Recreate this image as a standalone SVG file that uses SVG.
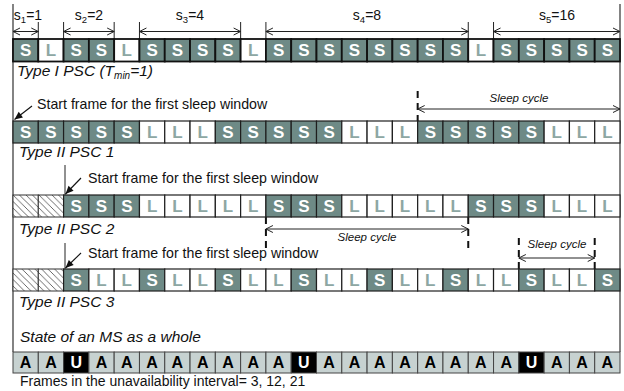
<svg xmlns="http://www.w3.org/2000/svg" width="624" height="391" viewBox="0 0 624 391">
<style>
text{font-family:"Liberation Sans",Arial,sans-serif}
.S{fill:#6e8a86;stroke:#1e1e1e;stroke-width:1.2}
.L{fill:#ffffff;stroke:#1e1e1e;stroke-width:1.2}
.H{fill:url(#hatch);stroke:#333;stroke-width:1}
.A{fill:#c7d2d1;stroke:#444;stroke-width:1}
.U{fill:#000;stroke:#444;stroke-width:1}
.r1 rect{stroke-width:1.8;stroke:#111}
.tS{fill:#fff;font-weight:bold;font-size:17px;text-anchor:middle}
.tL{fill:#8da7a3;font-weight:bold;font-size:17px;text-anchor:middle}
.tA{fill:#000;font-weight:bold;font-size:16px;text-anchor:middle}
.tU{fill:#fff;font-weight:bold;font-size:16px;text-anchor:middle}
.lbl{font-size:15.5px;font-style:italic;fill:#111}
.note{font-size:14.2px;fill:#111}
.sc{font-size:11.5px;font-style:italic;fill:#111;text-anchor:middle}
.sl{font-size:14px;fill:#111;text-anchor:middle}
.frame{stroke:#333;stroke-width:1.2;fill:none}
.tick{stroke:#222;stroke-width:1;fill:none}
.dim{stroke:#222;stroke-width:1;fill:none;marker-start:url(#open);marker-end:url(#open)}
.dash{stroke:#111;stroke-width:2;stroke-dasharray:7 5;fill:none}
.ptr{stroke:#111;stroke-width:1.1;fill:none;marker-end:url(#solid)}
</style>
<defs>
<pattern id="hatch" patternUnits="userSpaceOnUse" width="6.5" height="6.5">
<rect width="6.5" height="6.5" fill="#fff"/>
<path d="M-1,-1 L7.5,7.5 M-1,5.5 L1,7.5 M5.5,-1 L7.5,1" stroke="#444" stroke-width="0.8"/>
</pattern>
<marker id="open" viewBox="-9 -5 10 10" refX="0" refY="0" markerWidth="10" markerHeight="10" markerUnits="userSpaceOnUse" orient="auto-start-reverse">
<path d="M-7,-3.5 L0,0 L-7,3.5" fill="none" stroke="#222" stroke-width="1"/>
</marker>
<marker id="solid" viewBox="-9 -5 10 10" refX="0" refY="0" markerWidth="10" markerHeight="10" markerUnits="userSpaceOnUse" orient="auto">
<path d="M-8,-3.5 L0,0 L-8,3.5 z" fill="#111"/>
</marker>
</defs>
<rect width="624" height="391" fill="#fff"/>

<g id="connectors">
<path class="frame" d="M13,4 V352 M620,4 V352"/>
<path class="tick" d="M38.29,22 V39 M63.58,22 V39 M114.17,22 V39 M139.46,22 V39 M240.63,22 V39 M265.92,22 V39 M468.25,22 V39 M493.54,22 V39"/>
<line class="dim" x1="13" y1="31.5" x2="38.29" y2="31.5"/>
<line class="dim" x1="63.58" y1="31.5" x2="114.17" y2="31.5"/>
<line class="dim" x1="139.46" y1="31.5" x2="240.63" y2="31.5"/>
<line class="dim" x1="265.92" y1="31.5" x2="468.25" y2="31.5"/>
<line class="dim" x1="493.54" y1="31.5" x2="620" y2="31.5"/>
<path class="dash" d="M417.67,91 V121"/>
<line class="dim" x1="417.67" y1="109" x2="620" y2="109"/>
<path class="dash" d="M265.92,217 V251 M468.25,217 V251"/>
<line class="dim" x1="265.92" y1="229" x2="468.25" y2="229"/>
<path class="dash" d="M518.83,238 V269 M594.71,238 V269"/>
<line class="dim" x1="518.83" y1="258" x2="594.71" y2="258"/>
<line class="ptr" x1="32" y1="106" x2="14.5" y2="119.5"/>
<path class="tick" d="M65,165 V195 M65,243 V269"/>
<line class="ptr" x1="81" y1="178" x2="65.5" y2="194"/>
<line class="ptr" x1="81" y1="253" x2="65.5" y2="268"/>
</g>

<g id="labels">
<text class="sl" x="28" y="20"><tspan>s</tspan><tspan font-size="9.5" dy="3">1</tspan><tspan dy="-3">=1</tspan></text>
<text class="sl" x="89" y="20"><tspan>s</tspan><tspan font-size="9.5" dy="3">2</tspan><tspan dy="-3">=2</tspan></text>
<text class="sl" x="190" y="20"><tspan>s</tspan><tspan font-size="9.5" dy="3">3</tspan><tspan dy="-3">=4</tspan></text>
<text class="sl" x="367" y="20"><tspan>s</tspan><tspan font-size="9.5" dy="3">4</tspan><tspan dy="-3">=8</tspan></text>
<text class="sl" x="557" y="20"><tspan>s</tspan><tspan font-size="9.5" dy="3">5</tspan><tspan dy="-3">=16</tspan></text>
<text class="lbl" x="17" y="76">Type I PSC (T<tspan font-size="10" dy="3">min</tspan><tspan dy="-3">=1)</tspan></text>
<text class="note" x="37" y="109">Start frame for the first sleep window</text>
<text class="sc" x="519" y="102">Sleep cycle</text>
<text class="lbl" x="19" y="157">Type II PSC 1</text>
<text class="note" x="88" y="183">Start frame for the first sleep window</text>
<text class="lbl" x="19" y="234">Type II PSC 2</text>
<text class="sc" x="367" y="241">Sleep cycle</text>
<text class="sc" x="557" y="248">Sleep cycle</text>
<text class="note" x="88" y="258">Start frame for the first sleep window</text>
<text class="lbl" x="19" y="307">Type II PSC 3</text>
<text class="lbl" x="20" y="342">State of an MS as a whole</text>
<text class="note" x="20" y="386" style="font-size:14px">Frames in the unavailability interval= 3, 12, 21</text>
</g>

<g id="row1" class="r1">
<g id="r1c0"><rect class="S" x="13" y="39" width="25.29" height="22.5"/><text class="tS" x="25.65" y="56.3">S</text></g>
<g id="r1c1"><rect class="L" x="38.29" y="39" width="25.29" height="22.5"/><text class="tL" x="50.94" y="56.3">L</text></g>
<g id="r1c2"><rect class="S" x="63.58" y="39" width="25.29" height="22.5"/><text class="tS" x="76.23" y="56.3">S</text></g>
<g id="r1c3"><rect class="S" x="88.88" y="39" width="25.29" height="22.5"/><text class="tS" x="101.52" y="56.3">S</text></g>
<g id="r1c4"><rect class="L" x="114.17" y="39" width="25.29" height="22.5"/><text class="tL" x="126.81" y="56.3">L</text></g>
<g id="r1c5"><rect class="S" x="139.46" y="39" width="25.29" height="22.5"/><text class="tS" x="152.1" y="56.3">S</text></g>
<g id="r1c6"><rect class="S" x="164.75" y="39" width="25.29" height="22.5"/><text class="tS" x="177.4" y="56.3">S</text></g>
<g id="r1c7"><rect class="S" x="190.04" y="39" width="25.29" height="22.5"/><text class="tS" x="202.69" y="56.3">S</text></g>
<g id="r1c8"><rect class="S" x="215.33" y="39" width="25.29" height="22.5"/><text class="tS" x="227.98" y="56.3">S</text></g>
<g id="r1c9"><rect class="L" x="240.63" y="39" width="25.29" height="22.5"/><text class="tL" x="253.27" y="56.3">L</text></g>
<g id="r1c10"><rect class="S" x="265.92" y="39" width="25.29" height="22.5"/><text class="tS" x="278.56" y="56.3">S</text></g>
<g id="r1c11"><rect class="S" x="291.21" y="39" width="25.29" height="22.5"/><text class="tS" x="303.85" y="56.3">S</text></g>
<g id="r1c12"><rect class="S" x="316.5" y="39" width="25.29" height="22.5"/><text class="tS" x="329.15" y="56.3">S</text></g>
<g id="r1c13"><rect class="S" x="341.79" y="39" width="25.29" height="22.5"/><text class="tS" x="354.44" y="56.3">S</text></g>
<g id="r1c14"><rect class="S" x="367.08" y="39" width="25.29" height="22.5"/><text class="tS" x="379.73" y="56.3">S</text></g>
<g id="r1c15"><rect class="S" x="392.38" y="39" width="25.29" height="22.5"/><text class="tS" x="405.02" y="56.3">S</text></g>
<g id="r1c16"><rect class="S" x="417.67" y="39" width="25.29" height="22.5"/><text class="tS" x="430.31" y="56.3">S</text></g>
<g id="r1c17"><rect class="S" x="442.96" y="39" width="25.29" height="22.5"/><text class="tS" x="455.6" y="56.3">S</text></g>
<g id="r1c18"><rect class="L" x="468.25" y="39" width="25.29" height="22.5"/><text class="tL" x="480.9" y="56.3">L</text></g>
<g id="r1c19"><rect class="S" x="493.54" y="39" width="25.29" height="22.5"/><text class="tS" x="506.19" y="56.3">S</text></g>
<g id="r1c20"><rect class="S" x="518.83" y="39" width="25.29" height="22.5"/><text class="tS" x="531.48" y="56.3">S</text></g>
<g id="r1c21"><rect class="S" x="544.13" y="39" width="25.29" height="22.5"/><text class="tS" x="556.77" y="56.3">S</text></g>
<g id="r1c22"><rect class="S" x="569.42" y="39" width="25.29" height="22.5"/><text class="tS" x="582.06" y="56.3">S</text></g>
<g id="r1c23"><rect class="S" x="594.71" y="39" width="25.29" height="22.5"/><text class="tS" x="607.35" y="56.3">S</text></g>
</g>

<g id="row2">
<g id="r2c0"><rect class="S" x="13" y="121" width="25.29" height="22"/><text class="tS" x="25.65" y="138">S</text></g>
<g id="r2c1"><rect class="S" x="38.29" y="121" width="25.29" height="22"/><text class="tS" x="50.94" y="138">S</text></g>
<g id="r2c2"><rect class="S" x="63.58" y="121" width="25.29" height="22"/><text class="tS" x="76.23" y="138">S</text></g>
<g id="r2c3"><rect class="S" x="88.88" y="121" width="25.29" height="22"/><text class="tS" x="101.52" y="138">S</text></g>
<g id="r2c4"><rect class="S" x="114.17" y="121" width="25.29" height="22"/><text class="tS" x="126.81" y="138">S</text></g>
<g id="r2c5"><rect class="L" x="139.46" y="121" width="25.29" height="22"/><text class="tL" x="152.1" y="138">L</text></g>
<g id="r2c6"><rect class="L" x="164.75" y="121" width="25.29" height="22"/><text class="tL" x="177.4" y="138">L</text></g>
<g id="r2c7"><rect class="L" x="190.04" y="121" width="25.29" height="22"/><text class="tL" x="202.69" y="138">L</text></g>
<g id="r2c8"><rect class="S" x="215.33" y="121" width="25.29" height="22"/><text class="tS" x="227.98" y="138">S</text></g>
<g id="r2c9"><rect class="S" x="240.63" y="121" width="25.29" height="22"/><text class="tS" x="253.27" y="138">S</text></g>
<g id="r2c10"><rect class="S" x="265.92" y="121" width="25.29" height="22"/><text class="tS" x="278.56" y="138">S</text></g>
<g id="r2c11"><rect class="S" x="291.21" y="121" width="25.29" height="22"/><text class="tS" x="303.85" y="138">S</text></g>
<g id="r2c12"><rect class="S" x="316.5" y="121" width="25.29" height="22"/><text class="tS" x="329.15" y="138">S</text></g>
<g id="r2c13"><rect class="L" x="341.79" y="121" width="25.29" height="22"/><text class="tL" x="354.44" y="138">L</text></g>
<g id="r2c14"><rect class="L" x="367.08" y="121" width="25.29" height="22"/><text class="tL" x="379.73" y="138">L</text></g>
<g id="r2c15"><rect class="L" x="392.38" y="121" width="25.29" height="22"/><text class="tL" x="405.02" y="138">L</text></g>
<g id="r2c16"><rect class="S" x="417.67" y="121" width="25.29" height="22"/><text class="tS" x="430.31" y="138">S</text></g>
<g id="r2c17"><rect class="S" x="442.96" y="121" width="25.29" height="22"/><text class="tS" x="455.6" y="138">S</text></g>
<g id="r2c18"><rect class="S" x="468.25" y="121" width="25.29" height="22"/><text class="tS" x="480.9" y="138">S</text></g>
<g id="r2c19"><rect class="S" x="493.54" y="121" width="25.29" height="22"/><text class="tS" x="506.19" y="138">S</text></g>
<g id="r2c20"><rect class="S" x="518.83" y="121" width="25.29" height="22"/><text class="tS" x="531.48" y="138">S</text></g>
<g id="r2c21"><rect class="L" x="544.13" y="121" width="25.29" height="22"/><text class="tL" x="556.77" y="138">L</text></g>
<g id="r2c22"><rect class="L" x="569.42" y="121" width="25.29" height="22"/><text class="tL" x="582.06" y="138">L</text></g>
<g id="r2c23"><rect class="L" x="594.71" y="121" width="25.29" height="22"/><text class="tL" x="607.35" y="138">L</text></g>
</g>

<g id="row3">
<g id="r3c0"><rect class="H" x="13" y="195" width="25.29" height="22"/></g>
<g id="r3c1"><rect class="H" x="38.29" y="195" width="25.29" height="22"/></g>
<g id="r3c2"><rect class="S" x="63.58" y="195" width="25.29" height="22"/><text class="tS" x="76.23" y="212">S</text></g>
<g id="r3c3"><rect class="S" x="88.88" y="195" width="25.29" height="22"/><text class="tS" x="101.52" y="212">S</text></g>
<g id="r3c4"><rect class="S" x="114.17" y="195" width="25.29" height="22"/><text class="tS" x="126.81" y="212">S</text></g>
<g id="r3c5"><rect class="L" x="139.46" y="195" width="25.29" height="22"/><text class="tL" x="152.1" y="212">L</text></g>
<g id="r3c6"><rect class="L" x="164.75" y="195" width="25.29" height="22"/><text class="tL" x="177.4" y="212">L</text></g>
<g id="r3c7"><rect class="L" x="190.04" y="195" width="25.29" height="22"/><text class="tL" x="202.69" y="212">L</text></g>
<g id="r3c8"><rect class="L" x="215.33" y="195" width="25.29" height="22"/><text class="tL" x="227.98" y="212">L</text></g>
<g id="r3c9"><rect class="L" x="240.63" y="195" width="25.29" height="22"/><text class="tL" x="253.27" y="212">L</text></g>
<g id="r3c10"><rect class="S" x="265.92" y="195" width="25.29" height="22"/><text class="tS" x="278.56" y="212">S</text></g>
<g id="r3c11"><rect class="S" x="291.21" y="195" width="25.29" height="22"/><text class="tS" x="303.85" y="212">S</text></g>
<g id="r3c12"><rect class="S" x="316.5" y="195" width="25.29" height="22"/><text class="tS" x="329.15" y="212">S</text></g>
<g id="r3c13"><rect class="L" x="341.79" y="195" width="25.29" height="22"/><text class="tL" x="354.44" y="212">L</text></g>
<g id="r3c14"><rect class="L" x="367.08" y="195" width="25.29" height="22"/><text class="tL" x="379.73" y="212">L</text></g>
<g id="r3c15"><rect class="L" x="392.38" y="195" width="25.29" height="22"/><text class="tL" x="405.02" y="212">L</text></g>
<g id="r3c16"><rect class="L" x="417.67" y="195" width="25.29" height="22"/><text class="tL" x="430.31" y="212">L</text></g>
<g id="r3c17"><rect class="L" x="442.96" y="195" width="25.29" height="22"/><text class="tL" x="455.6" y="212">L</text></g>
<g id="r3c18"><rect class="S" x="468.25" y="195" width="25.29" height="22"/><text class="tS" x="480.9" y="212">S</text></g>
<g id="r3c19"><rect class="S" x="493.54" y="195" width="25.29" height="22"/><text class="tS" x="506.19" y="212">S</text></g>
<g id="r3c20"><rect class="S" x="518.83" y="195" width="25.29" height="22"/><text class="tS" x="531.48" y="212">S</text></g>
<g id="r3c21"><rect class="L" x="544.13" y="195" width="25.29" height="22"/><text class="tL" x="556.77" y="212">L</text></g>
<g id="r3c22"><rect class="L" x="569.42" y="195" width="25.29" height="22"/><text class="tL" x="582.06" y="212">L</text></g>
<g id="r3c23"><rect class="L" x="594.71" y="195" width="25.29" height="22"/><text class="tL" x="607.35" y="212">L</text></g>
</g>

<g id="row4">
<g id="r4c0"><rect class="H" x="13" y="269" width="25.29" height="22"/></g>
<g id="r4c1"><rect class="H" x="38.29" y="269" width="25.29" height="22"/></g>
<g id="r4c2"><rect class="S" x="63.58" y="269" width="25.29" height="22"/><text class="tS" x="76.23" y="286">S</text></g>
<g id="r4c3"><rect class="L" x="88.88" y="269" width="25.29" height="22"/><text class="tL" x="101.52" y="286">L</text></g>
<g id="r4c4"><rect class="L" x="114.17" y="269" width="25.29" height="22"/><text class="tL" x="126.81" y="286">L</text></g>
<g id="r4c5"><rect class="S" x="139.46" y="269" width="25.29" height="22"/><text class="tS" x="152.1" y="286">S</text></g>
<g id="r4c6"><rect class="L" x="164.75" y="269" width="25.29" height="22"/><text class="tL" x="177.4" y="286">L</text></g>
<g id="r4c7"><rect class="L" x="190.04" y="269" width="25.29" height="22"/><text class="tL" x="202.69" y="286">L</text></g>
<g id="r4c8"><rect class="S" x="215.33" y="269" width="25.29" height="22"/><text class="tS" x="227.98" y="286">S</text></g>
<g id="r4c9"><rect class="L" x="240.63" y="269" width="25.29" height="22"/><text class="tL" x="253.27" y="286">L</text></g>
<g id="r4c10"><rect class="L" x="265.92" y="269" width="25.29" height="22"/><text class="tL" x="278.56" y="286">L</text></g>
<g id="r4c11"><rect class="S" x="291.21" y="269" width="25.29" height="22"/><text class="tS" x="303.85" y="286">S</text></g>
<g id="r4c12"><rect class="L" x="316.5" y="269" width="25.29" height="22"/><text class="tL" x="329.15" y="286">L</text></g>
<g id="r4c13"><rect class="L" x="341.79" y="269" width="25.29" height="22"/><text class="tL" x="354.44" y="286">L</text></g>
<g id="r4c14"><rect class="S" x="367.08" y="269" width="25.29" height="22"/><text class="tS" x="379.73" y="286">S</text></g>
<g id="r4c15"><rect class="L" x="392.38" y="269" width="25.29" height="22"/><text class="tL" x="405.02" y="286">L</text></g>
<g id="r4c16"><rect class="L" x="417.67" y="269" width="25.29" height="22"/><text class="tL" x="430.31" y="286">L</text></g>
<g id="r4c17"><rect class="S" x="442.96" y="269" width="25.29" height="22"/><text class="tS" x="455.6" y="286">S</text></g>
<g id="r4c18"><rect class="L" x="468.25" y="269" width="25.29" height="22"/><text class="tL" x="480.9" y="286">L</text></g>
<g id="r4c19"><rect class="L" x="493.54" y="269" width="25.29" height="22"/><text class="tL" x="506.19" y="286">L</text></g>
<g id="r4c20"><rect class="S" x="518.83" y="269" width="25.29" height="22"/><text class="tS" x="531.48" y="286">S</text></g>
<g id="r4c21"><rect class="L" x="544.13" y="269" width="25.29" height="22"/><text class="tL" x="556.77" y="286">L</text></g>
<g id="r4c22"><rect class="L" x="569.42" y="269" width="25.29" height="22"/><text class="tL" x="582.06" y="286">L</text></g>
<g id="r4c23"><rect class="S" x="594.71" y="269" width="25.29" height="22"/><text class="tS" x="607.35" y="286">S</text></g>
</g>

<g id="row5">
<g id="r5c0"><rect class="A" x="13" y="352" width="25.29" height="21"/><text class="tA" x="25.65" y="368.2">A</text></g>
<g id="r5c1"><rect class="A" x="38.29" y="352" width="25.29" height="21"/><text class="tA" x="50.94" y="368.2">A</text></g>
<g id="r5c2"><rect class="U" x="63.58" y="352" width="25.29" height="21"/><text class="tU" x="76.23" y="368.2">U</text></g>
<g id="r5c3"><rect class="A" x="88.88" y="352" width="25.29" height="21"/><text class="tA" x="101.52" y="368.2">A</text></g>
<g id="r5c4"><rect class="A" x="114.17" y="352" width="25.29" height="21"/><text class="tA" x="126.81" y="368.2">A</text></g>
<g id="r5c5"><rect class="A" x="139.46" y="352" width="25.29" height="21"/><text class="tA" x="152.1" y="368.2">A</text></g>
<g id="r5c6"><rect class="A" x="164.75" y="352" width="25.29" height="21"/><text class="tA" x="177.4" y="368.2">A</text></g>
<g id="r5c7"><rect class="A" x="190.04" y="352" width="25.29" height="21"/><text class="tA" x="202.69" y="368.2">A</text></g>
<g id="r5c8"><rect class="A" x="215.33" y="352" width="25.29" height="21"/><text class="tA" x="227.98" y="368.2">A</text></g>
<g id="r5c9"><rect class="A" x="240.63" y="352" width="25.29" height="21"/><text class="tA" x="253.27" y="368.2">A</text></g>
<g id="r5c10"><rect class="A" x="265.92" y="352" width="25.29" height="21"/><text class="tA" x="278.56" y="368.2">A</text></g>
<g id="r5c11"><rect class="U" x="291.21" y="352" width="25.29" height="21"/><text class="tU" x="303.85" y="368.2">U</text></g>
<g id="r5c12"><rect class="A" x="316.5" y="352" width="25.29" height="21"/><text class="tA" x="329.15" y="368.2">A</text></g>
<g id="r5c13"><rect class="A" x="341.79" y="352" width="25.29" height="21"/><text class="tA" x="354.44" y="368.2">A</text></g>
<g id="r5c14"><rect class="A" x="367.08" y="352" width="25.29" height="21"/><text class="tA" x="379.73" y="368.2">A</text></g>
<g id="r5c15"><rect class="A" x="392.38" y="352" width="25.29" height="21"/><text class="tA" x="405.02" y="368.2">A</text></g>
<g id="r5c16"><rect class="A" x="417.67" y="352" width="25.29" height="21"/><text class="tA" x="430.31" y="368.2">A</text></g>
<g id="r5c17"><rect class="A" x="442.96" y="352" width="25.29" height="21"/><text class="tA" x="455.6" y="368.2">A</text></g>
<g id="r5c18"><rect class="A" x="468.25" y="352" width="25.29" height="21"/><text class="tA" x="480.9" y="368.2">A</text></g>
<g id="r5c19"><rect class="A" x="493.54" y="352" width="25.29" height="21"/><text class="tA" x="506.19" y="368.2">A</text></g>
<g id="r5c20"><rect class="U" x="518.83" y="352" width="25.29" height="21"/><text class="tU" x="531.48" y="368.2">U</text></g>
<g id="r5c21"><rect class="A" x="544.13" y="352" width="25.29" height="21"/><text class="tA" x="556.77" y="368.2">A</text></g>
<g id="r5c22"><rect class="A" x="569.42" y="352" width="25.29" height="21"/><text class="tA" x="582.06" y="368.2">A</text></g>
<g id="r5c23"><rect class="A" x="594.71" y="352" width="25.29" height="21"/><text class="tA" x="607.35" y="368.2">A</text></g>
</g>
</svg>
